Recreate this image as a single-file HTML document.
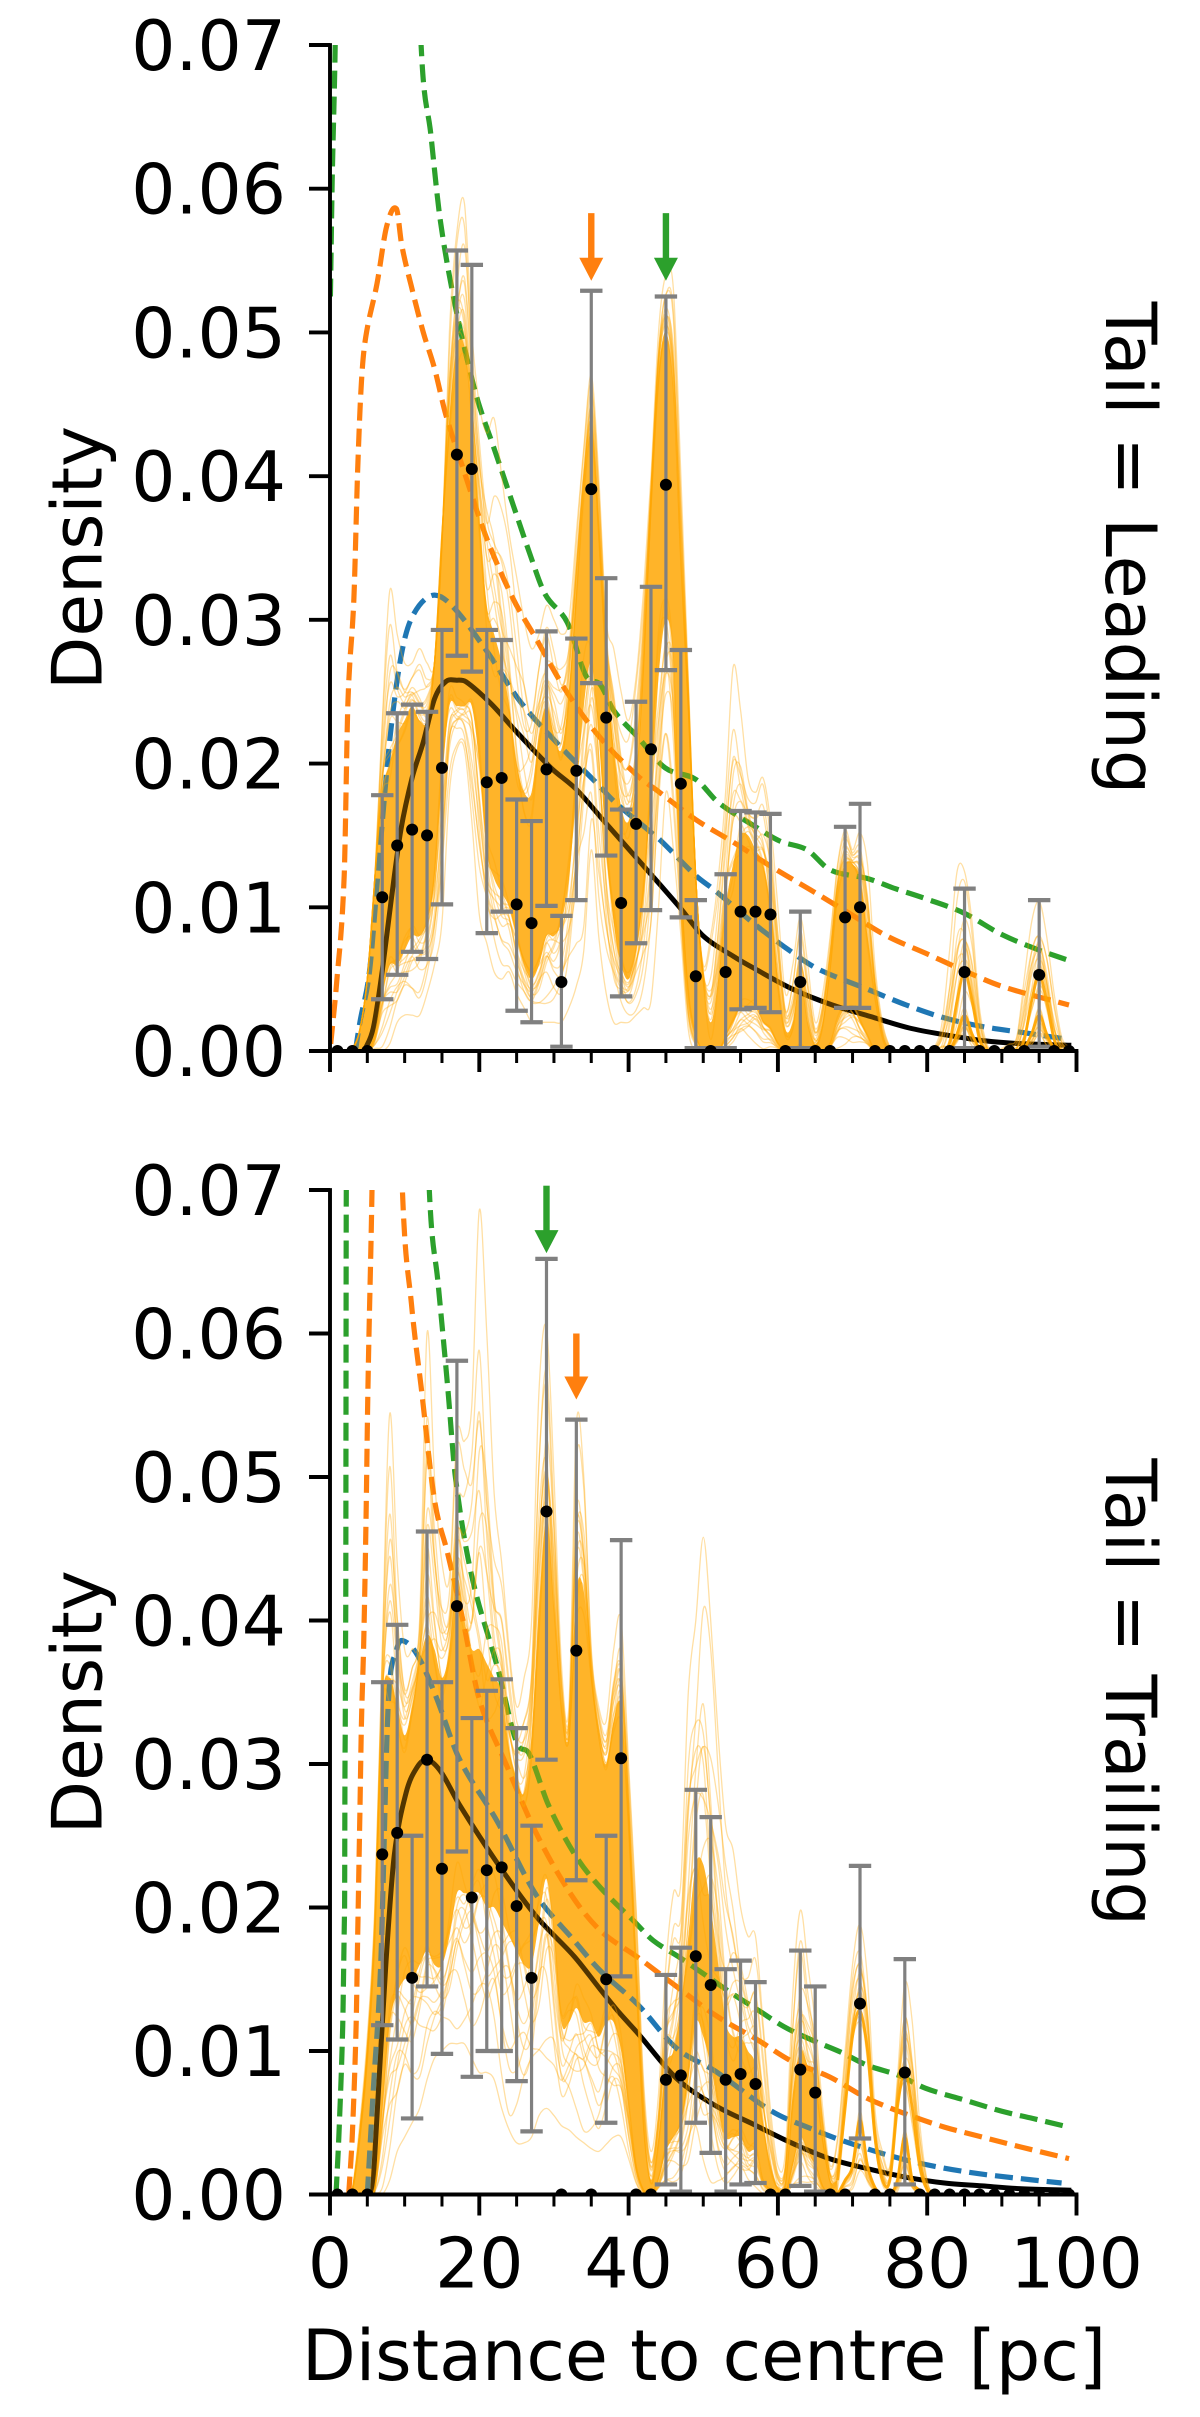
<!DOCTYPE html>
<html lang="en">
<head>
<meta charset="utf-8">
<title>Density versus distance to centre, leading and trailing tails</title>
<style>
html,body{margin:0;padding:0;background:#fff;}
svg{display:block;}
text{font-family:"DejaVu Sans","Liberation Sans",sans-serif;font-size:69.5px;fill:#000;}
</style>
</head>
<body>
<svg id="chart" xmlns="http://www.w3.org/2000/svg" width="1200" height="2417" viewBox="0 0 1200 2417">
  <rect x="0" y="0" width="1200" height="2417" fill="#ffffff"/>
</svg>
<script>
const xTicks = [0,20,40,60,80,100];
const xTickLabels = ["0","20","40","60","80","100"];
const xMinorTicks = [5,10,15,25,30,35,45,50,55,65,70,75,85,90,95];
const yTicks = [0,0.01,0.02,0.03,0.04,0.05,0.06,0.07];
const yTickLabels = ["0.00","0.01","0.02","0.03","0.04","0.05","0.06","0.07"];
const bins = [1,3,5,7,9,11,13,15,17,19,21,23,25,27,29,31,33,35,37,39,41,43,45,47,49,51,53,55,57,59,61,63,65,67,69,71,73,75,77,79,81,83,85,87,89,91,93,95,97,99];

const topDensity = [0,0,0,.0107,.0143,.0154,.0150,.0197,.0415,.0405,.0187,.0190,.0102,.0089,.0196,.0048,.0195,.0391,.0232,.0103,.0158,.0210,.0394,.0186,.0052,0,.0055,.0097,.0097,.0095,0,.0048,0,0,.0093,.0100,0,0,0,0,0,0,.0055,0,0,0,0,.0053,0,0];
const topErrHigh = [0,0,0,.0178,.0235,.0241,.0236,.0293,.0557,.0547,.0293,.0286,.0175,.0160,.0292,.0094,.0287,.0529,.0329,.0168,.0243,.0323,.0525,.0279,.0105,0,.0123,.0167,.0166,.0165,0,.0097,0,0,.0156,.0172,0,0,0,0,0,0,.0113,0,0,0,0,.0105,0,0];
const topErrLow = [0,0,0,.0036,.0053,.0069,.0064,.0102,.0275,.0264,.0082,.0097,.0028,.0020,.0101,.0003,.0105,.0256,.0136,.0038,.0075,.0098,.0265,.0093,.0002,0,.0002,.0029,.0030,.0027,0,.0002,0,0,.0030,.0030,0,0,0,0,0,0,.0002,0,0,0,0,.0003,0,0];

const trailDensity = [0,0,0,.0237,.0252,.0151,.0303,.0227,.0410,.0207,.0226,.0228,.0201,.0151,.0476,0,.0379,0,.0150,.0304,0,0,.0080,.0083,.0166,.0146,.0080,.0084,.0077,0,0,.0087,.0071,0,0,.0133,0,0,.0085,0,0,0,0,0,0,0,0,0,0,0];
const trailErrHigh = [0,0,0,.0357,.0397,.0250,.0462,.0357,.0581,.0332,.0351,.0359,.0325,.0257,.0652,0,.0540,0,.0250,.0456,0,0,.0153,.0172,.0282,.0263,.0157,.0163,.0148,0,0,.0170,.0145,0,0,.0229,0,0,.0164,0,0,0,0,0,0,0,0,0,0,0];
const trailErrLow = [0,0,0,.0118,.0108,.0053,.0145,.0098,.0239,.0082,.0100,.0100,.0079,.0044,.0303,0,.0219,0,.0050,.0152,0,0,.0007,.0002,.0050,.0029,.0002,.0007,.0008,0,0,.0006,.0002,0,0,.0039,0,0,.0007,0,0,0,0,0,0,0,0,0,0,0];

const topBlackX = [4.6,5.8,7,8.2,9.5,11,12.5,14,15.5,17,18.2,21.5,25,29.6,33,36.7,41.8,47,50,54,57,62,67.3,72.4,77.6,82.7,87.8,92.9,99.3];
const topBlackY = [0,.0016,.0056,.0105,.0154,.0190,.0215,.0245,.0257,.0258,.0257,.0242,.0222,.0197,.0182,.0160,.0130,.0099,.0080,.0066,.0057,.0043,.0032,.0024,.0016,.0011,.0007,.0005,.0004];
const topBlueX = [3.4,4,5.3,6.6,8.1,9.6,11.1,13.7,16.3,20.9,25.5,31.2,35.8,38.2,42.8,44.4,49,51.5,56.7,61.8,65.4,72,77.2,82.3,87.4,92.6,99];
const topBlueY = [0,.002,.0056,.0135,.0221,.0277,.0303,.0317,.031,.0279,.0243,.021,.0186,.0173,.0153,.0146,.0122,.0112,.0089,.0069,.0057,.0043,.0032,.0023,.0017,.0013,.0008];
const topOrangeX = [0.1,.9,1.9,2.4,3.2,3.7,4.2,4.8,6.3,7.6,8.9,9.6,10.9,12.5,14,15.5,17.6,20.9,24.5,27.6,31.7,36.2,41.3,43.9,49,54.1,59.2,64.4,69.5,74.6,79.8,84.9,90,99];
const topOrangeY = [.0005,.0048,.0122,.0242,.0315,.0403,.0465,.0497,.0534,.0574,.0586,.0561,.0532,.05,.0475,.0443,.0409,.0358,.0315,.0287,.025,.0218,.0191,.0181,.0161,.0145,.0128,.0112,.0096,.008,.0068,.0056,.0045,.0032];
const topGreenX = [.05,.3,.7,1.2,11.5,12.2,13.5,14.8,16.8,18.9,20,22,24.6,26.7,28.8,31.8,34.3,36.2,38,41.3,44.9,49,52,56.7,60.3,63.9,67,72,75.7,79.8,84.9,90,95.1,99];
const topGreenY = [.0525,.0606,.07,.09,.085,.07,.0638,.0577,.0518,.047,.0449,.0419,.0379,.0347,.0318,.0298,.0261,.0255,.0237,.0218,.0197,.0189,.0173,.0157,.0146,.014,.0126,.012,.0113,.0106,.0096,.0081,.007,.0063];

const trailBlackX = [5.7,6.5,7.5,8.6,10.2,11.7,13,14.8,17.3,22.4,27.6,32.7,36.2,38.7,41.3,46.4,51.6,56.7,61.8,66.9,72,77.2,82.3,87.4,92.6,99.3];
const trailBlackY = [0,.0073,.0162,.0236,.028,.0298,.0303,.0295,.0272,.0231,.0194,.0166,.0143,.0127,.0112,.0081,.0062,.0049,.0036,.0025,.0018,.0012,.0008,.0006,.0004,.0003];
const trailBlueX = [5,5.8,6.8,7.8,8.9,9.7,11.7,14.2,17.3,22.4,27.6,32.7,36.2,41.3,46.4,51.6,59.2,64.4,69.5,77.2,84.9,92.6,98];
const trailBlueY = [0,.0073,.0162,.0341,.0379,.0386,.0376,.0347,.0304,.026,.0209,.0177,.0156,.0132,.0102,.0086,.0058,.0046,.0036,.0024,.0016,.0011,.0008];
const trailOrangeX = [2.5,3,3.5,3.7,4,4.2,4.5,4.8,5.1,5.63,6.2,9.2,9.7,10.9,12.2,14,15.8,17.9,20,23.5,27.7,32.3,36.2,41.3,45.9,51.6,57.2,61.8,66.9,72,77.2,82.3,87.4,92.6,99];
const trailOrangeY = [0,.0043,.0117,.0177,.0266,.0327,.0381,.0461,.0568,.07,.09,.085,.07,.0621,.0563,.0484,.0446,.0398,.0345,.0301,.0251,.0209,.0184,.0165,.0147,.0125,.0108,.0093,.0082,.0067,.0056,.0047,.004,.0033,.0025];
const trailGreenX = [.8,1.2,1.7,1.95,2.02,2.1,2.19,2.4,12.6,13.3,14.5,15.8,16.8,18.9,22.5,25,26.7,29.3,32.9,36.2,40.8,43.3,46.9,53.6,57.2,60.8,64.4,68.5,72,76.2,79.8,84.9,90,94.1,99];
const trailGreenY = [0,.0043,.0117,.02,.031,.04,.07,.09,.085,.07,.0634,.0561,.05,.0433,.0366,.0315,.0307,.0271,.0236,.0214,.019,.0177,.0165,.0141,.0129,.0117,.0108,.0099,.009,.0083,.0074,.0066,.0058,.0053,.0047];

const kdeGrid = [0,1,2,3,4,5,6,7,8,9,10,11,12,13,14,15,16,17,18,19,20,21,22,23,24,25,26,27,28,29,30,31,32,33,34,35,36,37,38,39,40,41,42,43,44,45,46,47,48,49,50,51,52,53,54,55,56,57,58,59,60,61,62,63,64,65,66,67,68,69,70,71,72,73,74,75,76,77,78,79,80,81,82,83,84,85,86,87,88,89,90,91,92,93,94,95,96,97,98,99,100];

const topKdeCoreHigh = [
0,0,0,.0002,.0015,.005,.012,.018,.02,.022,
.023,.024,.023,.023,.027,.036,.044,.049,.049,.044,
.037,.031,.029,.027,.024,.02,.018,.018,.022,.024,
.022,.021,.025,.032,.039,.043,.036,.027,.021,.017,
.016,.019,.027,.038,.047,.05,.046,.034,.024,.012,
.005,.002,.005,.01,.013,.015,.015,.014,.013,.01,
.005,.0015,.002,.005,.002,.0005,.002,.006,.011,.013,
.013,.012,.008,.004,.001,0,0,0,0,0,
0,0,0,.0006,.0035,.0055,.0035,.0008,0,0,
0,0,0,.0008,.0035,.0053,.0035,.0008,0,0,0];
const topKdeCoreLow = [
0,0,0,0,0,0,.001,.004,.006,.006,
.007,.008,.008,.009,.012,.019,.024,.024,.024,.024,
.02,.014,.012,.011,.01,.008,.006,.005,.006,.008,
.008,.009,.012,.018,.024,.027,.022,.014,.009,.006,
.005,.007,.011,.018,.026,.03,.027,.012,.004,.001,
0,0,0,.001,.002,.003,.003,.003,.002,.0015,
.0005,0,0,.0005,0,0,0,.0005,.002,.003,
.003,.002,.001,0,0,0,0,0,0,0,
0,0,0,0,.0012,.0025,.0012,.0002,0,0,
0,0,0,.0002,.0012,.0025,.0012,.0002,0,0,0];
const topKdeOuterHigh = [
0,0,0,0,.0015,.005,.012,.023,.032,.029,
.027,.027,.028,.027,.027,.035,.05,.057,.059,.05,
.045,.043,.044,.04,.036,.033,.03,.028,.029,.031,
.03,.029,.03,.036,.042,.047,.04,.03,.028,.025,
.023,.026,.032,.04,.05,.054,.053,.04,.026,.012,
.006,.008,.012,.018,.0267,.0237,.019,.018,.019,.016,
.01,.004,.006,.0093,.006,.002,.004,.008,.013,.0154,
.014,.0152,.013,.006,.002,.0003,0,0,0,0,
0,.0003,.002,.007,.0125,.0125,.009,.003,.0005,0,
.0002,.0005,.001,.005,.009,.0104,.008,.004,.001,.0003,0];
const topKdeOuterLow = [
0,0,0,0,0,0,0,0,.0005,.002,
.0025,.0025,.0025,.004,.006,.009,.018,.021,.021,.016,
.0095,.0075,.0055,.005,.0055,.004,.003,.002,.002,.002,
.002,.002,.003,.0045,.007,.014,.008,.004,.002,.002,
.002,.0025,.003,.0035,.01,.018,.014,.008,.0015,0,
0,0,0,0,0,0,0,0,0,0,
0,0,0,0,0,0,0,0,0,0,
0,0,0,0,0,0,0,0,0,0,
0,0,0,0,0,0,0,0,0,0,
0,0,0,0,0,0,0,0,0,0,0];

const trailKdeCoreHigh = [
0,0,0,.0003,.004,.0095,.018,.034,.036,.034,
.032,.034,.037,.039,.038,.036,.038,.043,.04,.038,
.038,.037,.036,.035,.031,.029,.028,.032,.041,.047,
.041,.034,.032,.042,.042,.036,.032,.03,.033,.034,
.026,.015,.005,.001,.004,.009,.01,.013,.018,.023,
.023,.02,.016,.012,.011,.011,.01,.009,.005,.002,
.0005,.001,.007,.01,.009,.008,.004,.001,.001,.006,
.011,.0128,.01,.004,.001,.001,.006,.0085,.006,.002,
.0003,0,0,0,0,0,0,0,0,0,
0,0,0,0,0,0,0,0,0,0,0];
const trailKdeCoreLow = [
0,0,0,0,0,0,.0005,.006,.012,.014,
.015,.015,.016,.017,.016,.016,.018,.021,.021,.021,
.021,.02,.02,.019,.018,.017,.016,.016,.019,.022,
.018,.012,.012,.013,.012,.012,.011,.012,.012,.01,
.006,.002,.0003,0,.001,.003,.004,.005,.008,.012,
.011,.009,.006,.004,.004,.004,.003,.003,.001,.0003,
0,0,.002,.004,.003,.002,.0005,0,0,.001,
.002,.0052,.002,.0005,0,0,.001,.004,.001,.0003,
0,0,0,0,0,0,0,0,0,0,
0,0,0,0,0,0,0,0,0,0,0];
const trailKdeOuterHigh = [
0,0,0,.0005,.005,.011,.02,.038,.0544,.044,
.038,.038,.04,.06,.05,.044,.043,.053,.0525,.055,
.0686,.06,.0488,.044,.038,.034,.036,.04,.056,.0604,
.05,.037,.034,.0536,.05,.038,.034,.033,.038,.04,
.03,.02,.008,.003,.007,.016,.021,.0218,.035,.04,
.0458,.04,.032,.0257,.024,.02,.018,.018,.012,.006,
.002,.003,.014,.0198,.016,.012,.006,.002,.004,.01,
.016,.0188,.015,.006,.003,.002,.008,.0147,.012,.005,
.001,0,0,0,0,0,0,0,0,0,
0,0,0,0,0,0,0,0,0,0,0];
const trailKdeOuterLow = [
0,0,0,0,0,0,0,0,.001,.003,
.004,.005,.006,.008,.0095,.01,.0105,.0105,.0105,.0095,
.0085,.0085,.008,.006,.0045,.0036,.0036,.004,.0055,.006,
.0055,.0048,.0045,.004,.0036,.0032,.003,.0035,.004,.004,
.0025,.0008,0,0,0,0,0,0,0,0,
0,0,0,0,0,0,0,0,0,0,
0,0,0,0,0,0,0,0,0,0,
0,0,0,0,0,0,0,0,0,0,
0,0,0,0,0,0,0,0,0,0,
0,0,0,0,0,0,0,0,0,0,0];

const topArrowX = [35,45];
const topArrowTip = [.0536,.0536];
const topArrowTail = [.0583,.0583];
const trailArrowX = [33,29];
const trailArrowTip = [.0554,.0656];
const trailArrowTail = [.06,.0703];

const NS = 'http://www.w3.org/2000/svg';
const svg = document.getElementById('chart');
function mk(parent, tag, attrs, txt){
  const e = document.createElementNS(NS, tag);
  for (const k in attrs) e.setAttribute(k, attrs[k]);
  if (txt !== undefined) e.textContent = txt;
  parent.appendChild(e);
  return e;
}
const X0 = 330, X100 = 1076.5;
function xScale(v){ return X0 + (X100 - X0) * v / 100; }

function smoothPath(xs, ys, sx, sy){
  const px = xs.map(sx), py = ys.map(sy);
  const n = px.length;
  const m = [];
  for (let i = 0; i < n; i++){
    const a = Math.max(0, i - 1), b = Math.min(n - 1, i + 1);
    const dx = px[b] - px[a];
    m.push(dx > 0 ? (py[b] - py[a]) / dx : 0);
  }
  let d = 'M' + px[0].toFixed(1) + ' ' + py[0].toFixed(1);
  for (let i = 0; i < n - 1; i++){
    const h = (px[i + 1] - px[i]) / 3;
    const slopeCap = 60;
    const m0 = Math.max(-slopeCap, Math.min(slopeCap, m[i]));
    const m1 = Math.max(-slopeCap, Math.min(slopeCap, m[i + 1]));
    d += 'C' + (px[i] + h).toFixed(1) + ' ' + (py[i] + m0 * h).toFixed(1) + ' ' +
         (px[i + 1] - h).toFixed(1) + ' ' + (py[i + 1] - m1 * h).toFixed(1) + ' ' +
         px[i + 1].toFixed(1) + ' ' + py[i + 1].toFixed(1);
  }
  return d;
}

function drawPanel(p){
  const yScale = v => p.y0 - (p.y0 - p.y7) * v / 0.07;
  const panel = mk(svg, 'g', {});
  
  

  const defs = mk(panel, 'defs', {});
  const clip = mk(defs, 'clipPath', {id: p.name + '-clip'});
  mk(clip, 'rect', {x: X0, y: p.y7, width: X100 - X0, height: p.y0 - p.y7});

  const plot = mk(panel, 'g', {'clip-path': 'url(#' + p.name + '-clip)'});
  
  

  // dense core of the realisations, filled only where the strands merge
  const idx = [];
  kdeGrid.forEach((g, i) => { if (g <= p.fillTo) idx.push(i); });
  const fx = idx.map(i => kdeGrid[i]);
  const upper = smoothPath(fx, idx.map(i => p.coreHigh[i]), xScale, yScale);
  const rx = fx.slice().reverse();
  const lower = smoothPath(rx.map(v => -v), idx.map(i => p.coreLow[i]).reverse(), v => -xScale(-v), yScale);
  const lowerAbs = lower.replace(/-(\d)/g, '$1').replace(/^M/, 'L');
  const coreD = upper + lowerAbs + 'Z';

  const core = mk(plot, 'path', {d: coreD, fill: '#ffa500', 'fill-opacity': 0.76, stroke: 'none'});
  
  

  const black = mk(plot, 'path', {d: smoothPath(p.blackX, p.blackY, xScale, yScale), fill: 'none', stroke: '#000000', 'stroke-width': 5});
  
  

  const blue = mk(plot, 'path', {d: smoothPath(p.blueX, p.blueY, xScale, yScale), fill: 'none', stroke: '#1f77b4', 'stroke-width': 5.2, 'stroke-dasharray': '18 8'});
  
  

  const orange = mk(plot, 'path', {d: smoothPath(p.orangeX, p.orangeY, xScale, yScale), fill: 'none', stroke: '#ff7f0e', 'stroke-width': 5.2, 'stroke-dasharray': '18 8'});
  
  

  const green = mk(plot, 'path', {d: smoothPath(p.greenX, p.greenY, xScale, yScale), fill: 'none', stroke: '#2ca02c', 'stroke-width': 5.2, 'stroke-dasharray': '18 8'});
  
  

  const kde = mk(plot, 'g', {});
  
  

  const overlay = mk(kde, 'path', {d: coreD, fill: '#ffa500', 'fill-opacity': 0.32, stroke: 'none'});
  
  

  // thin pale strands between the read envelopes; a fixed weave makes them cross
  const fractions = [0,.3,.42,.52,.6,.67,.73,.79,.84,.89,.93,.97,1];
  const weave = [0,.12,.2,.1,-.08,-.2,-.14,.02,.18,.22,.06,-.12,-.22,-.1,.08,.16,.04];
  fractions.forEach((f, n) => {
    const blend = (from, to) => from.map((v, i) => {
      const w = Math.min(1.2, Math.max(0, f + weave[(i + n * 5) % weave.length] * (n === 0 ? 0 : 1)));
      return Math.max(0, v + (to[i] - v) * w);
    });
    const a = mk(kde, 'path', {d: smoothPath(kdeGrid, blend(p.outerHigh, p.coreHigh), xScale, yScale), fill: 'none', stroke: '#ffa500', 'stroke-width': 1.3, 'stroke-opacity': 0.36});
    
    
    const b = mk(kde, 'path', {d: smoothPath(kdeGrid, blend(p.outerLow, p.coreLow), xScale, yScale), fill: 'none', stroke: '#ffa500', 'stroke-width': 1.3, 'stroke-opacity': 0.36});
    
    
  });

  // solid strands in the sparse outer peaks
  const farIdx = [];
  kdeGrid.forEach((g, i) => { if (g >= p.fillTo) farIdx.push(i); });
  const farX = farIdx.map(i => kdeGrid[i]);
  const strandA = mk(kde, 'path', {d: smoothPath(farX, farIdx.map(i => p.coreHigh[i]), xScale, yScale), fill: 'none', stroke: '#ffa500', 'stroke-width': 2.8, 'stroke-opacity': 0.9});
  
  
  const strandB = mk(kde, 'path', {d: smoothPath(farX, farIdx.map(i => p.coreLow[i]), xScale, yScale), fill: 'none', stroke: '#ffa500', 'stroke-width': 2.8, 'stroke-opacity': 0.9});
  
  

  // error bars and binned points
  bins.forEach((b, i) => {
    const cx = xScale(b);
    if (p.errHigh[i] > p.errLow[i]) {
      const g = mk(plot, 'g', {stroke: '#808080', fill: 'none'});
      
      
      mk(g, 'line', {x1: cx, x2: cx, y1: yScale(p.errLow[i]), y2: yScale(p.errHigh[i]), 'stroke-width': 3.2});
      mk(g, 'line', {x1: cx - 11.2, x2: cx + 11.2, y1: yScale(p.errLow[i]), y2: yScale(p.errLow[i]), 'stroke-width': 4.2});
      mk(g, 'line', {x1: cx - 11.2, x2: cx + 11.2, y1: yScale(p.errHigh[i]), y2: yScale(p.errHigh[i]), 'stroke-width': 4.2});
    }
  });
  bins.forEach((b, i) => {
    const dot = mk(plot, 'circle', {cx: xScale(b), cy: yScale(p.density[i]), r: 6, fill: '#000000'});
    
    
  });

  // arrows marking peaks
  p.arrowX.forEach((a, i) => {
    const cx = xScale(a), tip = yScale(p.arrowTip[i]), tail = yScale(p.arrowTail[i]);
    const colour = p.arrowColour[i];
    const g = mk(panel, 'g', {fill: colour});
    
    
    mk(g, 'rect', {x: cx - 3.2, y: tail, width: 6.4, height: tip - tail - 20});
    mk(g, 'polygon', {points: (cx - 12) + ',' + (tip - 23) + ' ' + (cx + 12) + ',' + (tip - 23) + ' ' + cx + ',' + tip});
  });

  // axes
  const axes = mk(panel, 'g', {stroke: '#000000', 'stroke-width': 3.9, 'stroke-linecap': 'butt', fill: 'none'});
  
  
  mk(axes, 'line', {x1: X0, x2: X0, y1: p.y7 - 1.9, y2: p.y0 + 1.9});
  mk(axes, 'line', {x1: X0, x2: X100 + 1.9, y1: p.y0, y2: p.y0});
  yTicks.forEach((t, i) => {
    const y = yScale(t);
    const tk = mk(axes, 'line', {x1: X0 - 21, x2: X0, y1: y, y2: y});
    
    
    const lab = mk(panel, 'text', {x: 286, y: y + 25, 'text-anchor': 'end'}, yTickLabels[i]);
    
    
  });
  xTicks.forEach((t, i) => {
    const x = xScale(t);
    const tk = mk(axes, 'line', {x1: x, x2: x, y1: p.y0, y2: p.y0 + 21});
    
    
    if (p.showXLabels) {
      const lab = mk(panel, 'text', {x: x, y: p.y0 + 93, 'text-anchor': 'middle'}, xTickLabels[i]);
      
      
    }
  });
  xMinorTicks.forEach(t => {
    const x = xScale(t);
    const tk = mk(axes, 'line', {x1: x, x2: x, y1: p.y0, y2: p.y0 + 12, 'stroke-width': 3});
    
    
  });

  const cy = (p.y0 + p.y7) / 2;
  const yTitle = mk(panel, 'text', {transform: 'translate(101.5 ' + (cy + 10) + ') rotate(-90)', 'text-anchor': 'middle'}, 'Density');
  
  
  const facet = mk(panel, 'text', {transform: 'translate(1106 ' + cy + ') rotate(90)', 'text-anchor': 'middle', style: 'font-size:70px'}, p.facet);
  
  
}

drawPanel({name: 'leading', y0: 1051, y7: 45, facet: 'Tail = Leading', showXLabels: false, fillTo: 76,
  density: topDensity, errHigh: topErrHigh, errLow: topErrLow,
  blackX: topBlackX, blackY: topBlackY, blueX: topBlueX, blueY: topBlueY,
  orangeX: topOrangeX, orangeY: topOrangeY, greenX: topGreenX, greenY: topGreenY,
  coreHigh: topKdeCoreHigh, coreLow: topKdeCoreLow, outerHigh: topKdeOuterHigh, outerLow: topKdeOuterLow,
  arrowX: topArrowX, arrowTip: topArrowTip, arrowTail: topArrowTail, arrowColour: ['#ff7f0e', '#2ca02c']});

drawPanel({name: 'trailing', y0: 2194.5, y7: 1190, facet: 'Tail = Trailing', showXLabels: true, fillTo: 68,
  density: trailDensity, errHigh: trailErrHigh, errLow: trailErrLow,
  blackX: trailBlackX, blackY: trailBlackY, blueX: trailBlueX, blueY: trailBlueY,
  orangeX: trailOrangeX, orangeY: trailOrangeY, greenX: trailGreenX, greenY: trailGreenY,
  coreHigh: trailKdeCoreHigh, coreLow: trailKdeCoreLow, outerHigh: trailKdeOuterHigh, outerLow: trailKdeOuterLow,
  arrowX: trailArrowX, arrowTip: trailArrowTip, arrowTail: trailArrowTail, arrowColour: ['#ff7f0e', '#2ca02c']});

const xTitle = mk(svg, 'text', {x: 704, y: 2380, 'text-anchor': 'middle', style: 'font-size:70px'}, 'Distance to centre [pc]');


</script>
</body>
</html>
